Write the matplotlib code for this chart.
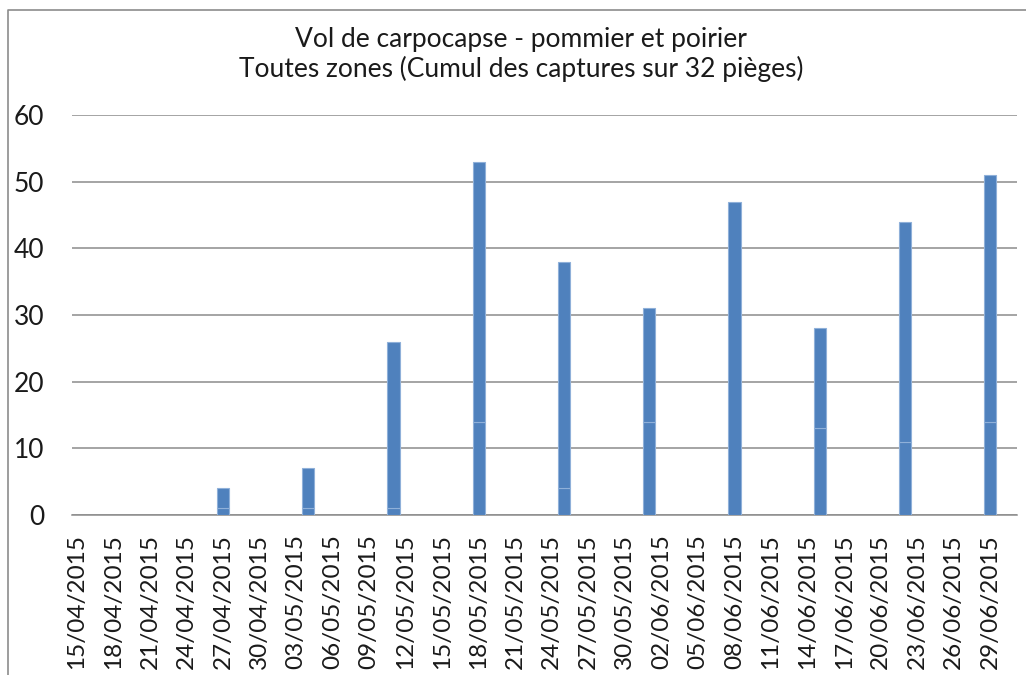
import numpy as np
import pandas as pd
import matplotlib.pyplot as plt
import matplotlib.dates as mdates
from matplotlib.lines import Line2D

plt.rcParams["font.family"] = ["Lato", "DejaVu Sans"]

# -----------------------------
# Data (weekly trap counts)
# -----------------------------
dates = ["2015-04-27", "2015-05-04", "2015-05-11", "2015-05-18", "2015-05-25",
         "2015-06-01", "2015-06-08", "2015-06-15", "2015-06-22", "2015-06-29"]
serie_bas = [1, 1, 1, 14, 4, 14, 0, 13, 11, 14]
serie_haut = [3, 6, 25, 39, 34, 17, 47, 15, 33, 37]

title = "Vol de carpocapse - pommier et poirier\nToutes zones (Cumul des captures sur 32 pièges)"
yticks = [0, 10, 20, 30, 40, 50, 60]

# -----------------------------
# Plot
# -----------------------------
W, H = 1026, 675
fig = plt.figure(figsize=(W / 100, H / 100), dpi=100)
ax = fig.add_axes([72 / W, (H - 515) / H, (1017 - 72) / W, 400 / H])

x = pd.to_datetime(dates)
blue = "#4F81BD"
edge = "#8FB0D9"
ax.bar(x, serie_bas, width=1.0, color=blue, edgecolor=edge, linewidth=0.8, zorder=3)
ax.bar(x, serie_haut, bottom=serie_bas, width=1.0, color=blue, edgecolor=edge,
       linewidth=0.8, zorder=3)

# axes formatting
ax.set_ylim(0, 60)
ax.set_yticks(yticks)
ax.grid(axis="y", color="#8C8C8C", linewidth=1.1, zorder=0)
ax.set_axisbelow(True)

start = pd.Timestamp("2015-04-15")
ticks = pd.date_range("2015-04-15", "2015-06-29", freq="3D")
ax.set_xticks(ticks)
ax.xaxis.set_major_formatter(mdates.DateFormatter("%d/%m/%Y"))
ax.set_xlim(start - pd.Timedelta(days=0.4), start + pd.Timedelta(days=77.2))

for s in ["top", "right", "left"]:
    ax.spines[s].set_visible(False)
ax.spines["bottom"].set_color("#8C8C8C")
ax.spines["bottom"].set_linewidth(1.1)

ax.tick_params(axis="y", length=0, pad=20, labelsize=19, labelcolor="#1a1a1a")
ax.tick_params(axis="x", length=0, pad=14, labelsize=17.5, labelrotation=90,
               labelcolor="#1a1a1a")

fig.text(521 / W, 1 - 27 / H, title, ha="center", va="top", fontsize=19,
         color="#1a1a1a", linespacing=1.2)

# chart area border (cut by the image edges)
fig.add_artist(Line2D([8 / W, 8 / W, 1.0], [0.0, 1 - 10 / H, 1 - 10 / H],
                      transform=fig.transFigure, color="#8C8C8C", linewidth=1.2))

fig.savefig("out.png", dpi=100)
